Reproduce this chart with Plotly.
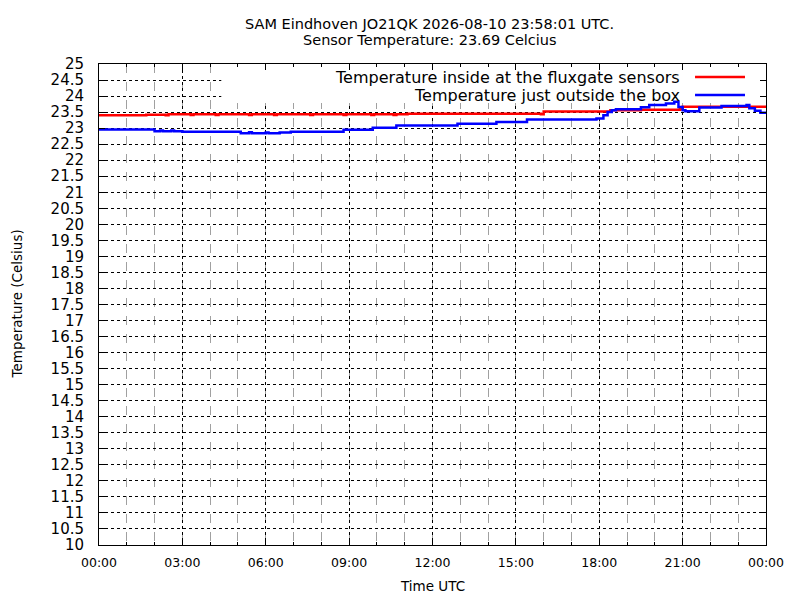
import plotly.graph_objects as go

# hours since 00:00 UTC and temperatures (Celsius)
red_hours = [0.0, 1.6, 1.7, 2.4, 2.5, 3.3, 3.4, 4.2, 4.3, 5.4, 5.5, 6.3, 6.4, 7.6, 7.7,
             8.8, 8.9, 9.8, 9.9, 10.6, 10.7, 11.1, 15.8, 15.9, 16.0, 18.4, 19.5, 20.9,
             21.0, 24.0]
red_temp = [23.40, 23.40, 23.42, 23.40, 23.43, 23.41, 23.43, 23.41, 23.43, 23.41, 23.43,
            23.41, 23.43, 23.41, 23.43, 23.41, 23.43, 23.41, 23.43, 23.41, 23.43, 23.45,
            23.45, 23.43, 23.52, 23.56, 23.57, 23.59, 23.67, 23.69]

blue_hours = [0.0, 2.0, 2.2, 2.3, 2.6, 2.7, 3.0, 5.1, 5.4, 5.5, 6.0, 6.1, 6.5, 6.9, 8.8,
              9.85, 10.7, 12.9, 14.3, 15.4, 17.9, 18.15, 18.3, 18.45, 18.6, 18.7, 19.5,
              19.8, 20.4, 20.7, 20.85, 21.0, 21.1, 21.6, 22.4, 23.3, 23.4, 23.6, 23.8, 24.0]
blue_temp = [22.96, 22.90, 22.93, 22.90, 22.93, 22.90, 22.89, 22.84, 22.87, 22.84, 22.86,
             22.84, 22.86, 22.89, 22.95, 23.01, 23.08, 23.14, 23.19, 23.27, 23.30, 23.40,
             23.50, 23.56, 23.59, 23.59, 23.65, 23.72, 23.77, 23.82, 23.66, 23.56, 23.53,
             23.64, 23.69, 23.72, 23.62, 23.54, 23.48, 23.46]

red_name = "Temperature inside at the fluxgate sensors"
blue_name = "Temperature just outside the box"
title_lines = ["SAM Eindhoven JO21QK 2026-08-10 23:58:01 UTC.",
               "Sensor Temperature: 23.69 Celcius"]

x_ticks = list(range(0, 25, 3))
x_labels = ["00:00", "03:00", "06:00", "09:00", "12:00", "15:00", "18:00", "21:00", "00:00"]
y_ticks = [10 + 0.5 * i for i in range(31)]
y_labels = [("%g" % v) for v in y_ticks]

FONT = "DejaVu Sans"

fig = go.Figure()
fig.add_trace(go.Scatter(x=red_hours, y=red_temp, mode="lines", name=red_name,
                         line=dict(color="#ff0000", width=2.5, shape="hv")))
fig.add_trace(go.Scatter(x=blue_hours, y=blue_temp, mode="lines", name=blue_name,
                         line=dict(color="#0000ff", width=2.5, shape="hv")))

# white key box hides the grid, as gnuplot does
fig.add_shape(type="rect", xref="x", yref="y", x0=4.4, x1=24, y0=23.78, y1=25,
              fillcolor="white", line=dict(width=0), layer="between")

# hand-made key: text right-aligned, sample line on the right
for i, (name, col) in enumerate([(red_name, "#ff0000"), (blue_name, "#0000ff")]):
    shift = -13 - 18 * i
    fig.add_annotation(x=1, y=1, xref="paper", yref="paper", text=name,
                       showarrow=False, xanchor="right", yanchor="middle",
                       xshift=-84, yshift=shift,
                       font=dict(family=FONT, size=16, color="black"))
    yp = 1 + shift / 481
    fig.add_shape(type="line", xref="paper", yref="paper", x0=0.8936, x1=0.9685,
                  y0=yp, y1=yp, line=dict(color=col, width=2.5))

# two-line title
for i, line in enumerate(title_lines):
    fig.add_annotation(x=0.496, y=1, xref="paper", yref="paper", text=line,
                       showarrow=False, xanchor="center", yanchor="middle",
                       yshift=40 - 16 * i,
                       font=dict(family=FONT, size=14.5, color="black"))

fig.add_annotation(x=0.5, y=0, xref="paper", yref="paper", text="Time UTC",
                   showarrow=False, yanchor="middle", yshift=-41,
                   font=dict(family=FONT, size=13.5, color="black"))
fig.add_annotation(x=0, y=0.5, xref="paper", yref="paper",
                   text="Temperature (Celsius)", textangle=-90, showarrow=False,
                   xanchor="center", yanchor="middle", xshift=-83,
                   font=dict(family=FONT, size=13.5, color="black"))

# page body adds an 8px offset, so the margins are shifted to compensate
fig.update_layout(
    width=800, height=600,
    margin=dict(l=91, r=42, t=56, b=63),
    paper_bgcolor="white", plot_bgcolor="white",
    showlegend=False,
    font=dict(family=FONT, color="black"),
)
fig.update_xaxes(range=[0, 24], tickvals=x_ticks, ticktext=x_labels,
                 tickfont=dict(size=12.5), ticks="inside", ticklen=6, tickcolor="black",
                 showline=True, linecolor="black", linewidth=1, mirror="ticks",
                 showgrid=True, gridcolor="black", griddash="dot", gridwidth=1,
                 zeroline=False, ticklabelstandoff=6,
                 minor=dict(dtick=1, ticks="inside", ticklen=3, tickcolor="black",
                            showgrid=True, gridcolor="#a0a0a0", griddash="dash"))
fig.update_yaxes(range=[10, 25], tickvals=y_ticks, ticktext=y_labels,
                 tickfont=dict(size=15), ticks="inside", ticklen=6, tickcolor="black",
                 showline=True, linecolor="black", linewidth=1, mirror="ticks",
                 showgrid=True, gridcolor="black", griddash="dot", gridwidth=1,
                 zeroline=False, ticklabelstandoff=11)

fig.write_html("out.html")
